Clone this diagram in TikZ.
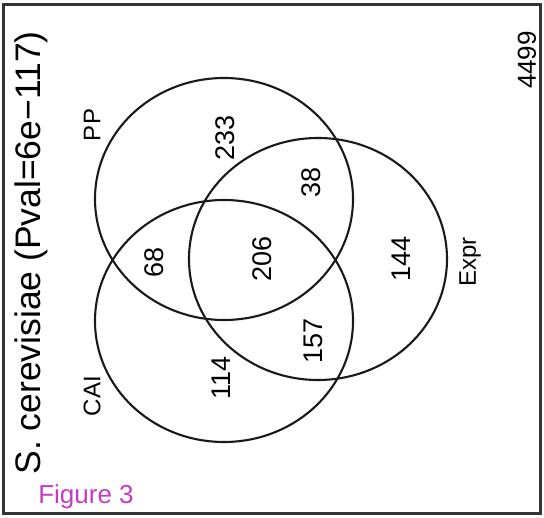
\documentclass[tikz,border=0pt]{standalone}
\usepackage{fontspec}
\setmainfont{Liberation Sans}
\definecolor{figpink}{RGB}{196,60,196}

\begin{document}
\begin{tikzpicture}[x=1pt,y=-1pt,
  setline/.style={black!90,line width=2.1pt},
  count/.style={rotate=90,inner sep=0pt,font=\fontsize{27}{30}\selectfont},
  setname/.style={rotate=90,inner sep=0pt,font=\fontsize{24}{28}\selectfont}]
\useasboundingbox (0,0) rectangle (544,518);
\draw[black!80,line width=3pt] (3,5) rectangle (540,514);
% title and totals
\node[rotate=90,inner sep=0pt,font=\fontsize{35.5}{40}\selectfont] (title) at (31,253) {S. cerevisiae (Pval=6e−117)};
\node[rotate=90,inner sep=0pt,font=\fontsize{26}{30}\selectfont] (total) at (527,60) {4499};
\node[figpink,inner sep=0pt,font=\fontsize{26}{28}\selectfont] (figlabel) at (86,497) {Figure 3};
% the three sets
\coordinate (pp) at (224,199);
\coordinate (cai) at (224,321);
\coordinate (expr) at (318,259);
\draw[setline] (pp) ellipse [x radius=129pt,y radius=121pt];
\draw[setline] (cai) ellipse [x radius=129pt,y radius=121pt];
\draw[setline] (expr) ellipse [x radius=129pt,y radius=121pt];
\node[setname] (ppname) at (92,125) {PP};
\node[setname] (cainame) at (92,396) {CAI};
\node[setname] (exprname) at (470,262) {Expr};
% region counts
\node[count] (onlypp) at (225,138) {233};
\node[count] (ppexpr) at (311,182) {38};
\node[count] (ppcai) at (154,262) {68};
\node[count] (all) at (262,259) {206};
\node[count] (onlyexpr) at (401,259) {144};
\node[count] (caiexpr) at (313,341) {157};
\node[count] (onlycai) at (221,378) {114};
\end{tikzpicture}
\end{document}
